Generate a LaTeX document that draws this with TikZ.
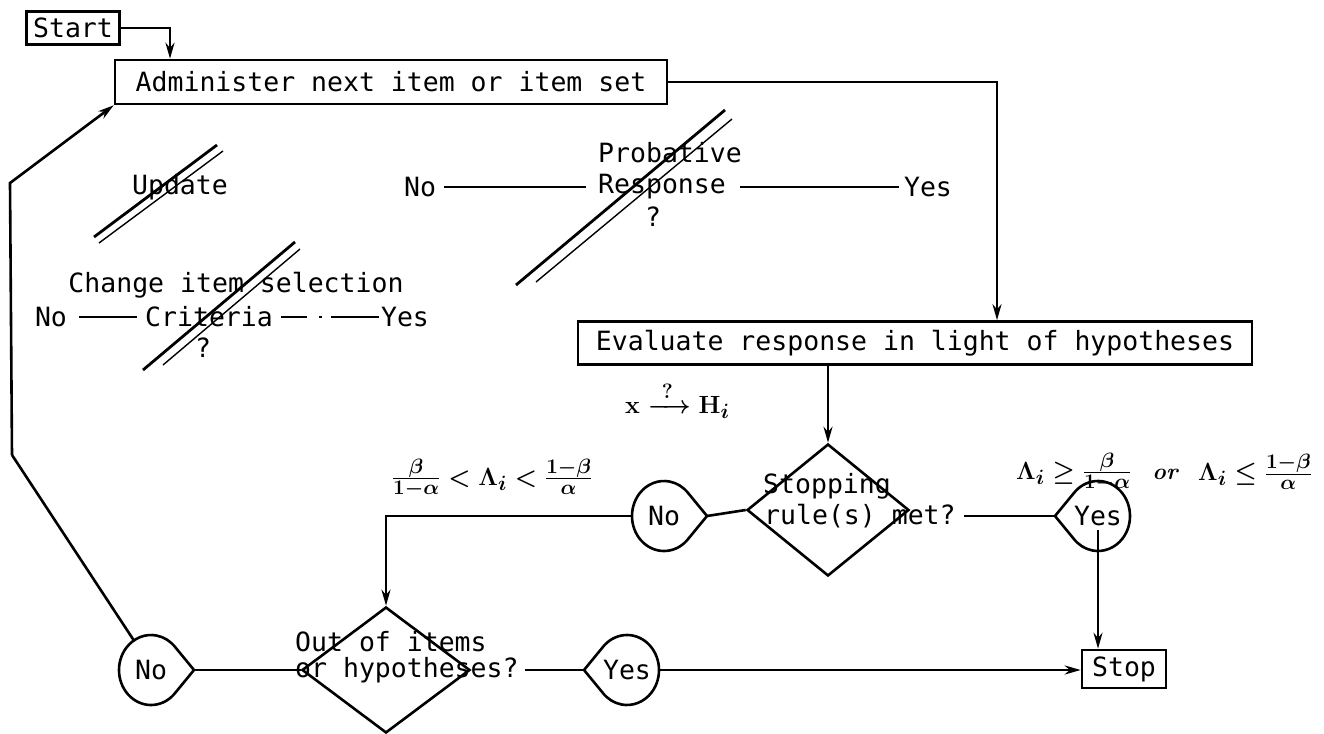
\documentclass[tikz,border=0pt]{standalone}
\usepackage{amsmath}
\usepackage{fontspec}
\setmonofont{DejaVu Sans Mono}
\usetikzlibrary{arrows.meta,calc,shapes.geometric}
\newcommand{\tdrop}[4]{%
  \draw[ln,line join=round] ($(#1.center)+(#2:43)$) -- ($(#1.center)+(#3:32 and 35)$)
    arc[start angle=#3, end angle=#4, x radius=32, y radius=35] -- cycle;}
\begin{document}
\begin{tikzpicture}[x=1pt,y=-1pt,
  every node/.style={font=\ttfamily\fontsize{26.5}{30}\selectfont, inner sep=0pt},
  box/.style={draw, line width=2.6pt},
  ln/.style={line width=2.6pt},
  thin/.style={line width=1.8pt},
  arr/.style={line width=2.6pt, -{Stealth[length=16pt,width=9pt]}},
  strikeA/.style={line width=2.8pt},
  strikeB/.style={line width=1.4pt},
  drop/.style={circle, minimum size=66pt, inner sep=0pt},
  dia/.style={diamond, draw, line width=2.6pt, inner sep=0pt},
  mth/.style={font=\fontsize{31}{34}\selectfont\boldmath},
  orlbl/.style={font=\rmfamily\itshape\bfseries\fontsize{23}{26}\selectfont}
]
\useasboundingbox (0,0) rectangle (1324,733);

% boxes
\node[box, minimum width=93pt, minimum height=33pt] (start) at (73,28) {Start};
\node[box, minimum width=552pt, minimum height=44pt] (admin) at (391,82) {Administer next item or item set};
\node[box, minimum width=674pt, minimum height=43pt] (eval) at (915,343) {Evaluate response in light of hypotheses};
\node[box, minimum width=84pt, minimum height=38pt] (stop) at (1124,669) {Stop};

% diamonds
\node[dia, minimum width=162pt, minimum height=132pt] (stopd) at (828,510) {};
\node[dia, minimum width=168pt, minimum height=126pt] (outd) at (386,670) {};
\node[anchor=west] (st1) at (763,486) {Stopping};
\node[anchor=west] (st2) at (764,516) {rule(s) met?};
\node[anchor=west] (out1) at (295,642) {Out of items};
\node[anchor=west] (out2) at (295,670) {or hypotheses?};

% teardrop answers
\node[drop] (no1) at (664,516) {No};
\node[drop] (yes1) at (1098,516) {Yes};
\node[drop] (no2) at (151,670) {No};
\node[drop] (yes2) at (627,670) {Yes};
\tdrop{no1}{0}{40}{320}
\tdrop{yes1}{180}{220}{500}
\tdrop{no2}{0}{40}{320}
\tdrop{yes2}{180}{220}{500}
\coordinate (no1tip) at ($(no1.center)+(43,0)$);
\coordinate (yes1tip) at ($(yes1.center)+(-43,0)$);
\coordinate (no2tip) at ($(no2.center)+(43,0)$);
\coordinate (yes2tip) at ($(yes2.center)+(-43,0)$);

% crossed-out notes
\node (upd) at (180,187) {Update};
\draw[strikeA] (94,237) -- (217,145);
\draw[strikeB] (99,243) -- (223,151);

\node[anchor=west] (prob) at (598,153) {Probative};
\node[anchor=west] (resp) at (598,187) {Response};
\node (pq) at (653,217) {?};
\node (pno) at (420,187) {No};
\node (pyes) at (928,187) {Yes};
\draw[ln] ([xshift=8pt]pno.east) -- ([xshift=-12pt]resp.west);
\draw[ln] ([xshift=14pt]resp.east) -- ([xshift=-5pt]pyes.west);
\draw[strikeA] (516,285) -- (725,110);
\draw[strikeB] (536,282) -- (732,119);

\node (chg) at (236,285) {Change item selection};
\node (cno) at (51,317) {No};
\node[anchor=west] (crit) at (145,317) {Criteria};
\node (cyes) at (405,317) {Yes};
\node (cq) at (203,348) {?};
\draw[ln] ([xshift=12pt]cno.east) -- ([xshift=-8pt]crit.west);
\draw[ln] ([xshift=8pt]crit.east) -- ++(26,0);
\draw[thin] ([xshift=46pt]crit.east) -- ++(3,0);
\draw[ln] ([xshift=58pt]crit.east) -- ([xshift=-2pt]cyes.west);
\draw[strikeA] (143,370) -- (295,242);
\draw[strikeB] (163,365) -- (300,249);

% formulas
\node[mth, anchor=west] (xh) at (625,400) {$\mathbf{x} \xrightarrow{\;?\;} \mathbf{H}_i$};
\node[mth] (f1) at (492,478) {$\frac{\beta}{1-\alpha} < \Lambda_i < \frac{1-\beta}{\alpha}$};
\node[mth, anchor=west] (f2a) at (1016,472) {$\Lambda_i \geq \frac{\beta}{1-\alpha}$};
\node[orlbl] (f2or) at (1165,474) {or};
\node[mth, anchor=west] (f2b) at (1198,472) {$\Lambda_i \leq \frac{1-\beta}{\alpha}$};

% connectors
\coordinate (a1) at (170,28);
\draw[arr] (start.east) -- (a1) -- (a1 |- admin.north);
\coordinate (c1) at (997,82);
\draw[arr] (admin.east) -- (c1) -- (c1 |- eval.north);
\draw[arr] (eval.south -| stopd.north) -- (stopd.north);
\draw[ln] (no1tip) -- (stopd.west);
\draw[ln] ([xshift=8pt]st2.east) -- (yes1tip);
\draw[arr] (no1.west) -| (outd.north);
\draw[arr] ([yshift=-14pt]yes1.center) -- (yes1.center |- stop.north);
\draw[ln] (no2tip) -- (outd.west);
\draw[ln] ([xshift=6pt]out2.east) -- (yes2tip);
\draw[arr] (yes2.east) -- (stop.west |- yes2.east);
\coordinate (l1) at (12,455);
\coordinate (l2) at (10,183);
\draw[ln] (no2.120) -- (l1);
\draw[arr] (l1) -- (l2) -- (admin.south west);
\end{tikzpicture}
\end{document}
